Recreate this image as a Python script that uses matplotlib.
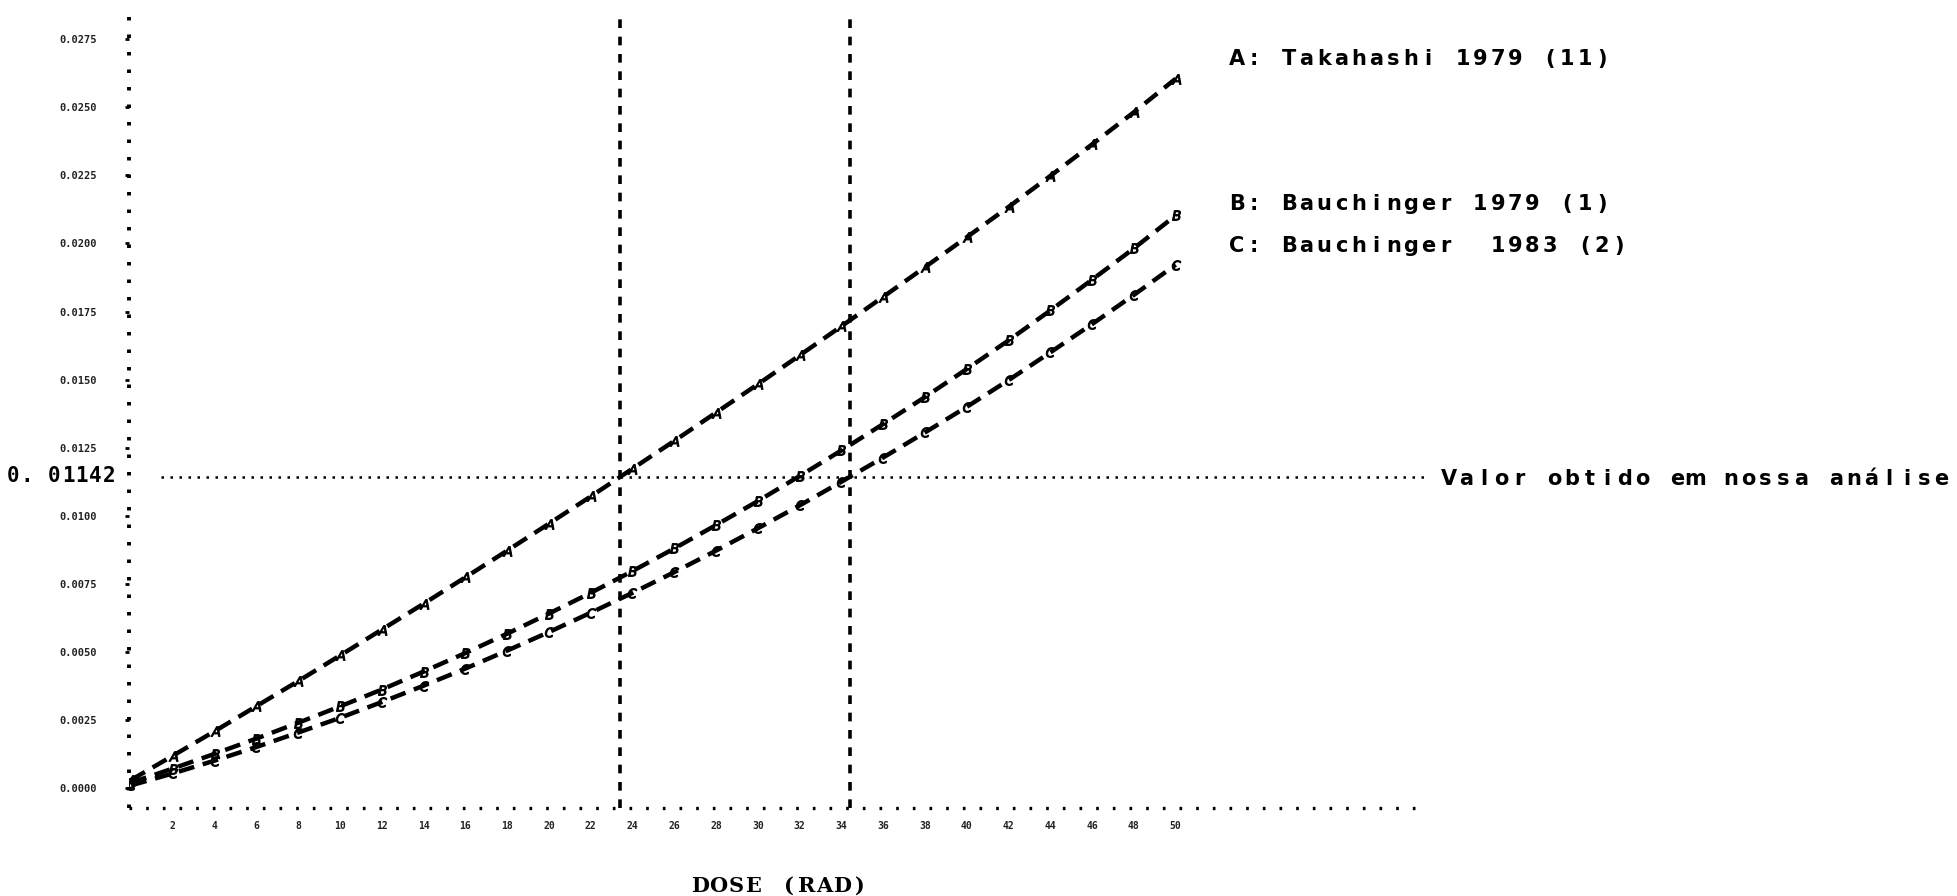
import numpy as np
import matplotlib
matplotlib.use("Agg")
import matplotlib.pyplot as plt

# Dose points (rad) and dicentric yields per cell for each calibration curve
dose = [0, 2, 4, 6, 8, 10, 12, 14, 16, 18, 20, 22, 24, 26, 28, 30, 32, 34, 36, 38, 40, 42, 44, 46, 48, 50]
takahashi_1979 = [0.00030, 0.00119, 0.00209, 0.00301, 0.00393, 0.00487, 0.00582, 0.00677, 0.00774,
                  0.00872, 0.00971, 0.01071, 0.01173, 0.01275, 0.01379, 0.01483, 0.01589, 0.01696,
                  0.01804, 0.01913, 0.02023, 0.02134, 0.02248, 0.02364, 0.02482, 0.02605]
bauchinger_1979 = [0.00020, 0.00072, 0.00126, 0.00182, 0.00240, 0.00300, 0.00362, 0.00428, 0.00496,
                   0.00567, 0.00641, 0.00717, 0.00797, 0.00880, 0.00966, 0.01054, 0.01146, 0.01240,
                   0.01337, 0.01436, 0.01539, 0.01644, 0.01754, 0.01867, 0.01982, 0.02103]
bauchinger_1983 = [0.00010, 0.00054, 0.00101, 0.00151, 0.00204, 0.00258, 0.00316, 0.00376, 0.00439,
                   0.00505, 0.00573, 0.00644, 0.00717, 0.00793, 0.00872, 0.00954, 0.01038, 0.01125,
                   0.01214, 0.01306, 0.01400, 0.01498, 0.01600, 0.01704, 0.01811, 0.01922]

curve_labels = ["A: Takahashi 1979 (11)", "B: Bauchinger 1979 (1)", "C: Bauchinger  1983 (2)"]
curve_marks = ["A", "B", "C"]

# Observed yield and the doses where curves A and C reach it
observed_yield = 0.01142
observed_doses = [23.4, 34.4]

y_ticks = [0.0, 0.0025, 0.0050, 0.0075, 0.0100, 0.0125, 0.0150, 0.0175, 0.0200, 0.0225, 0.0250, 0.0275]
x_ticks = [2, 4, 6, 8, 10, 12, 14, 16, 18, 20, 22, 24, 26, 28, 30, 32, 34, 36, 38, 40, 42, 44, 46, 48, 50]

W, H = 1958, 896
XMIN, XMAX = -0.1, 61.6
YMIN, YMAX = -0.00073, 0.0285

fig = plt.figure(figsize=(W / 100, H / 100), dpi=100)
ax = fig.add_axes([129 / W, 1 - 808 / H, (1418 - 129) / W, (808 - 12) / H])
ax.set_xlim(XMIN, XMAX)
ax.set_ylim(YMIN, YMAX)


def spaced_text(x_px, y_px, s, pitch, size, family="DejaVu Sans", ha="left"):
    # plotter-style lettering: every character on a fixed pitch (pixels)
    if ha == "center":
        x_px = x_px - pitch * len(s) / 2
    for i, ch in enumerate(s):
        if ch == " ":
            continue
        fig.text((x_px + pitch * (i + 0.5)) / W, 1 - y_px / H, ch, fontsize=size,
                 family=family, weight="bold", ha="center", va="center")


# Dotted axes, like a dot-matrix plotter
for side in ["top", "right", "left", "bottom"]:
    ax.spines[side].set_visible(False)
ax.plot([XMIN, XMIN], [YMIN, YMAX], color="black", lw=2.8, linestyle=(0, (0.9, 3.6)),
        clip_on=False, zorder=2)
ax.plot([XMIN, XMAX], [YMIN, YMIN], color="black", lw=2.4, linestyle=(0, (0.8, 4.2)),
        clip_on=False, zorder=2)

ax.set_yticks(y_ticks)
ax.set_yticklabels(["%.4f" % v for v in y_ticks], fontsize=7.5, color="#222222",
                   family="DejaVu Sans Mono", weight="bold")
ax.set_xticks(x_ticks)
ax.set_xticklabels([str(v) for v in x_ticks], fontsize=7, color="#222222",
                   family="DejaVu Sans Mono", weight="bold")
ax.tick_params(axis="y", length=3, width=2, pad=20)
ax.tick_params(axis="x", length=0, pad=9)

# Calibration curves
series = [takahashi_1979, bauchinger_1979, bauchinger_1983]
for ys, mk in zip(series, curve_marks):
    ax.plot(dose, ys, color="black", lw=3.2, linestyle=(0, (3.6, 2.0)),
            marker="$%s$" % mk, markersize=7, markeredgewidth=0.8, zorder=3)

# Reference lines for the observed yield
ax.axhline(observed_yield, xmin=0.025, xmax=1.005, color="black", lw=1.8,
           linestyle=(0, (1, 2.6)), zorder=2, clip_on=False)
for d in observed_doses:
    ax.axvline(d, color="black", lw=2.6, linestyle=(0, (2.4, 2.4)), zorder=2)

# Curve captions
spaced_text(1228, 59, curve_labels[0], 17.4, 15)
spaced_text(1228, 204, curve_labels[1], 17.4, 15)
spaced_text(1228, 246, curve_labels[2], 17.4, 15)

spaced_text(1440, 479, "Valor obtido em nossa análise", 17.6, 15)
spaced_text(6, 476, "0. 01142", 13.8, 15, family="DejaVu Sans Mono")
spaced_text(780, 886, "DOSE (RAD)", 17.7, 15, family="DejaVu Serif", ha="center")

fig.savefig("out.png", dpi=100, facecolor="white")
